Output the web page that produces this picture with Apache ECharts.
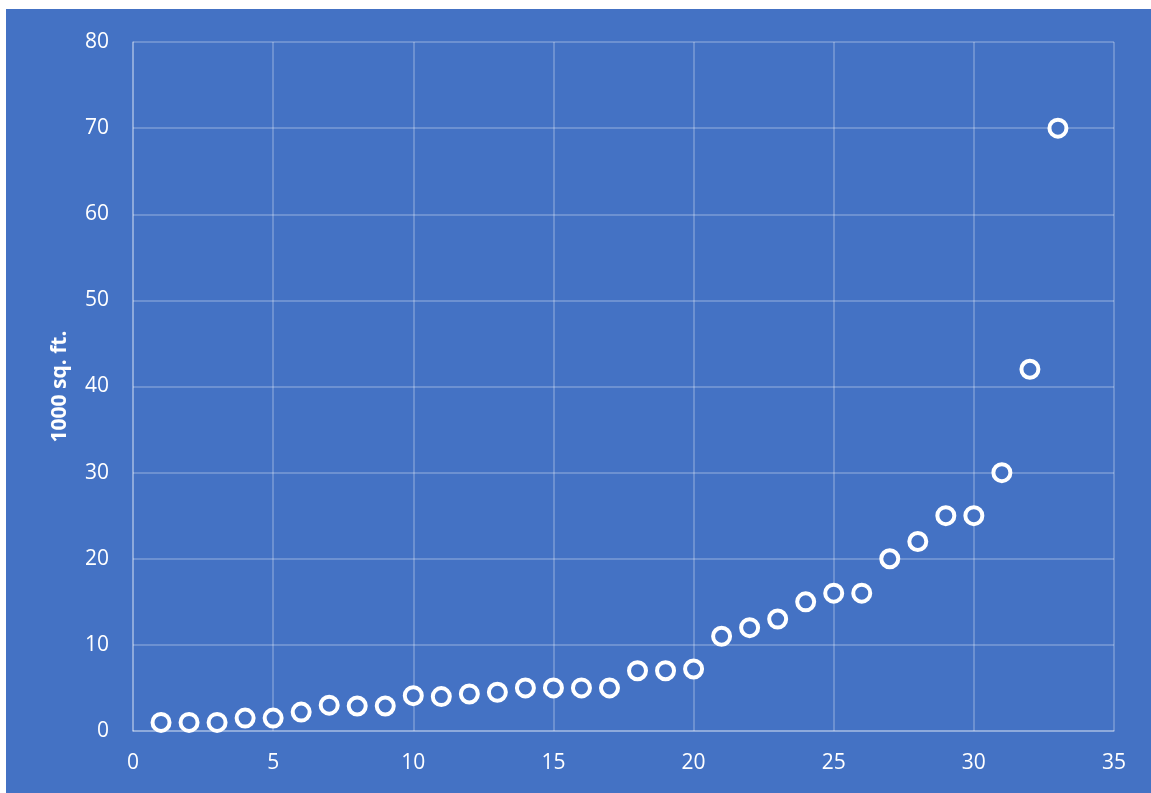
<!DOCTYPE html>
<html>
<head>
<meta charset="utf-8">
<script src="https://cdn.jsdelivr.net/npm/echarts@6/dist/echarts.min.js"></script>
<style>
  html, body { margin: 0; padding: 0; background: #fff; }
  #chart { position: absolute; left: 6px; top: 9px; width: 1145px; height: 784px; background: #4472C4; }
</style>
</head>
<body>
<div id="chart"></div>
<script>
  // 建筑序号 与 面积 (1000 sq. ft.)
  var xValues = [1, 2, 3, 4, 5, 6, 7, 8, 9, 10, 11, 12, 13, 14, 15, 16, 17,
                 18, 19, 20, 21, 22, 23, 24, 25, 26, 27, 28, 29, 30, 31, 32, 33];
  var areaValues = [1, 1, 1, 1.5, 1.5, 2.2, 3, 2.9, 2.9, 4.1, 4, 4.3, 4.5, 5, 5, 5, 5,
                    7, 7, 7.2, 11, 12, 13, 15, 16, 16, 20, 22, 25, 25, 30, 42, 70];
  var yAxisTitle = '1000 sq. ft.';

  var points = xValues.map(function (x, i) { return [x, areaValues[i]]; });
  var gridColor = 'rgba(255,255,255,0.3)';
  var labelFont = { color: '#ffffff', fontSize: 21, fontFamily: 'Open Sans, Liberation Sans, sans-serif' };

  var myChart = echarts.init(document.getElementById('chart'));
  myChart.setOption({
    backgroundColor: '#4472C4',
    animation: false,
    grid: { left: 127, right: 37, top: 33, bottom: 62 },
    xAxis: {
      type: 'value',
      min: 0, max: 35, interval: 5,
      axisLine: { show: true, lineStyle: { color: gridColor, width: 1.5 } },
      axisTick: { show: false },
      splitLine: { show: true, lineStyle: { color: gridColor, width: 1.5 } },
      axisLabel: Object.assign({ margin: 22 }, labelFont)
    },
    yAxis: {
      type: 'value',
      min: 0, max: 80, interval: 10,
      name: yAxisTitle,
      nameLocation: 'middle',
      nameGap: 62,
      nameTextStyle: { color: '#ffffff', fontSize: 21, fontWeight: 'bold', fontFamily: 'Open Sans, Liberation Sans, sans-serif' },
      axisLine: { show: true, lineStyle: { color: gridColor, width: 1.5 } },
      axisTick: { show: false },
      splitLine: { show: true, lineStyle: { color: gridColor, width: 1.5 } },
      axisLabel: Object.assign({ margin: 24 }, labelFont)
    },
    series: [{
      type: 'scatter',
      data: points,
      symbol: 'circle',
      symbolSize: 17,
      itemStyle: { color: '#4472C4', borderColor: '#ffffff', borderWidth: 4, opacity: 1 }
    }]
  });
</script>
</body>
</html>
